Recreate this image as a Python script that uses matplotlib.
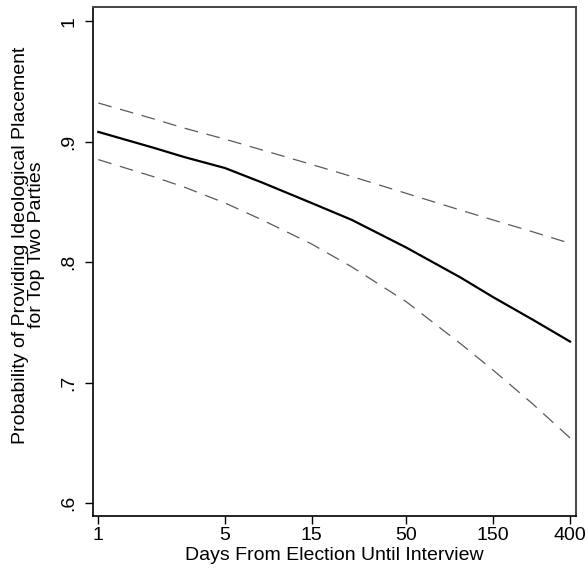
import numpy as np
import matplotlib
matplotlib.use("Agg")
import matplotlib.pyplot as plt

plt.rcParams['font.family'] = ['Liberation Sans', 'DejaVu Sans']

# values
days = [1, 2, 3, 5, 8, 15, 25, 50, 100, 150, 250, 400]
prob = [0.908, 0.895, 0.887, 0.878, 0.866, 0.849, 0.835, 0.812, 0.787, 0.771, 0.752, 0.734]
upper = [0.932, 0.919, 0.911, 0.902, 0.893, 0.881, 0.871, 0.857, 0.843, 0.835, 0.825, 0.8155]
lower = [0.885, 0.871, 0.862, 0.849, 0.835, 0.815, 0.796, 0.767, 0.732, 0.7105, 0.682, 0.654]

xticks = [1, 5, 15, 50, 150, 400]
yticks = [0.6, 0.7, 0.8, 0.9, 1.0]
ytick_labels = ['.6', '.7', '.8', '.9', '1']

fig = plt.figure(figsize=(5.88, 5.75), dpi=100)
ax = fig.add_axes([0.1582, 0.1026, 0.8214, 0.8857])

ax.plot(days, upper, color='#5a5a5a', lw=0.9, dashes=(11, 7))
ax.plot(days, lower, color='#5a5a5a', lw=0.9, dashes=(11, 7))
ax.plot(days, prob, color='black', lw=1.6)

ax.set_xscale('log')
ax.set_xlim(0.935, 431.5)
ax.set_ylim(0.5892, 1.0119)

ax.set_xticks(xticks)
ax.set_xticklabels([str(t) for t in xticks])
ax.minorticks_off()
ax.set_yticks(yticks)
ax.set_yticklabels(ytick_labels, rotation=90, va='center')

ax.tick_params(axis='both', direction='out', length=6, width=1, labelsize=14, color='black')
ax.tick_params(axis='x', pad=2)
ax.tick_params(axis='y', pad=5)

for side in ['left', 'bottom']:
    ax.spines[side].set_color('black')
    ax.spines[side].set_linewidth(1.2)
for side in ['top', 'right']:
    ax.spines[side].set_color('#444444')
    ax.spines[side].set_linewidth(1.4)

ax.set_xlabel('Days From Election Until Interview', fontsize=14, labelpad=2)
# y title sits a bit above the plot centre, like the original
fig.text(0.049, 0.574, 'Probability of Providing Ideological Placement\nfor Top Two Parties',
         rotation=90, ha='center', va='center', fontsize=14, linespacing=0.95,
         multialignment='center')

fig.savefig('out.png', dpi=100)
